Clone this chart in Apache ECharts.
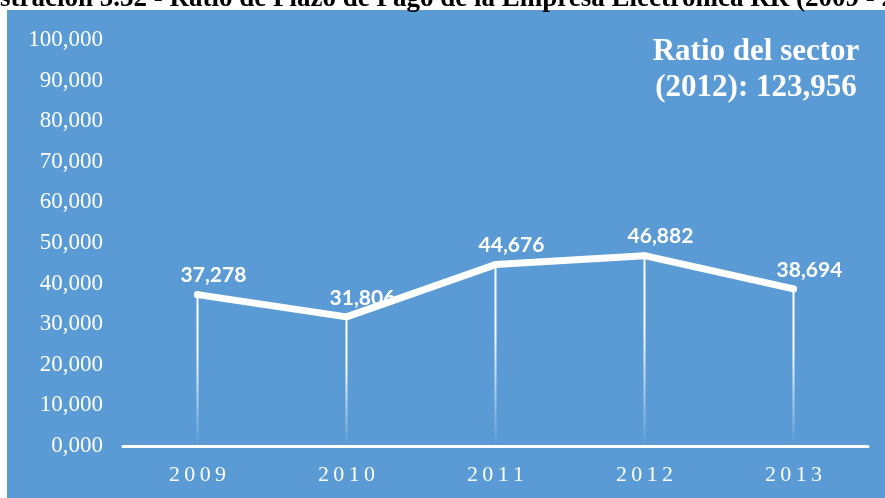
<!DOCTYPE html>
<html>
<head>
<meta charset="utf-8">
<style>
  html, body { margin: 0; padding: 0; background: #ffffff; }
  #chart { width: 885px; height: 498px; }
</style>
<script src="https://cdn.jsdelivr.net/npm/echarts@6/dist/echarts.min.js"></script>
</head>
<body>
<div id="chart"></div>
<script>
  // datos del gráfico
  var years = ['2009', '2010', '2011', '2012', '2013'];
  var ratioValues = [37278, 31806, 44676, 46882, 38694];
  var sectorYear = '2012';
  var sectorRatio = 123956;
  var titleText = 'Ilustración 5.32 - Ratio de Plazo de Pago de la Empresa Electrónica RR (2009 - 2013)';

  var serif = '"Liberation Serif", "Times New Roman", serif';

  function fmt(v) {
    // 0 se muestra como 0,000 igual que en la hoja original
    if (v === 0) return '0,000';
    return String(v).replace(/\B(?=(\d{3})+(?!\d))/g, ',');
  }

  var myChart = echarts.init(document.getElementById('chart'));

  var option = {
    animation: false,
    backgroundColor: '#ffffff',
    graphic: [
      {
        type: 'rect',
        z: -10,
        shape: { x: 7, y: 10, width: 885, height: 498 },
        style: { fill: '#5b9bd5' }
      },
      {
        // el título queda cortado arriba, como en la captura
        type: 'text',
        x: -33,
        y: -1,
        style: {
          text: titleText,
          font: 'bold 27px ' + serif,
          fill: '#000000',
          verticalAlign: 'middle'
        }
      },
      {
        type: 'text',
        x: 756,
        y: 34,
        style: {
          text: 'Ratio del sector\n(' + sectorYear + '): ' + fmt(sectorRatio),
          font: 'bold 31px ' + serif,
          fill: '#ffffff',
          align: 'center',
          lineHeight: 36
        }
      }
    ],
    grid: { left: 123, right: 17, top: 40, bottom: 52 },
    xAxis: {
      type: 'category',
      data: years,
      boundaryGap: true,
      axisLine: { lineStyle: { color: '#ffffff', width: 3 } },
      axisTick: { show: false },
      axisLabel: {
        color: '#ffffff',
        fontFamily: serif,
        fontSize: 22,
        margin: 18,
        formatter: function (v) { return v.split('').join('\u2009'); }
      }
    },
    yAxis: {
      type: 'value',
      min: 0,
      max: 100000,
      interval: 10000,
      axisLine: { show: false },
      axisTick: { show: false },
      splitLine: { show: false },
      axisLabel: {
        color: '#ffffff',
        fontFamily: serif,
        fontSize: 23,
        margin: 20,
        formatter: fmt
      }
    },
    series: [
      {
        // líneas de referencia verticales
        type: 'bar',
        data: ratioValues,
        barWidth: 2,
        z: 1,
        silent: true,
        itemStyle: {
          color: new echarts.graphic.LinearGradient(0, 0, 0, 1, [
            { offset: 0, color: 'rgba(255,255,255,1)' },
            { offset: 0.4, color: 'rgba(255,255,255,0.95)' },
            { offset: 1, color: 'rgba(255,255,255,0)' }
          ])
        }
      },
      {
        type: 'line',
        data: ratioValues,
        z: 3,
        symbol: 'circle',
        symbolSize: 7,
        itemStyle: { color: '#ffffff' },
        lineStyle: { color: '#ffffff', width: 7, cap: 'round', join: 'round' },
        label: {
          show: true,
          position: 'top',
          distance: 5,
          offset: [16, 0],
          color: '#ffffff',
          fontFamily: 'Lato, "Open Sans", sans-serif',
          fontWeight: 'bold',
          fontSize: 21,
          formatter: function (p) { return fmt(p.value); }
        }
      }
    ]
  };

  myChart.setOption(option);

  window.addEventListener('resize', function () {
    myChart.resize();
  });
</script>
</body>
</html>
